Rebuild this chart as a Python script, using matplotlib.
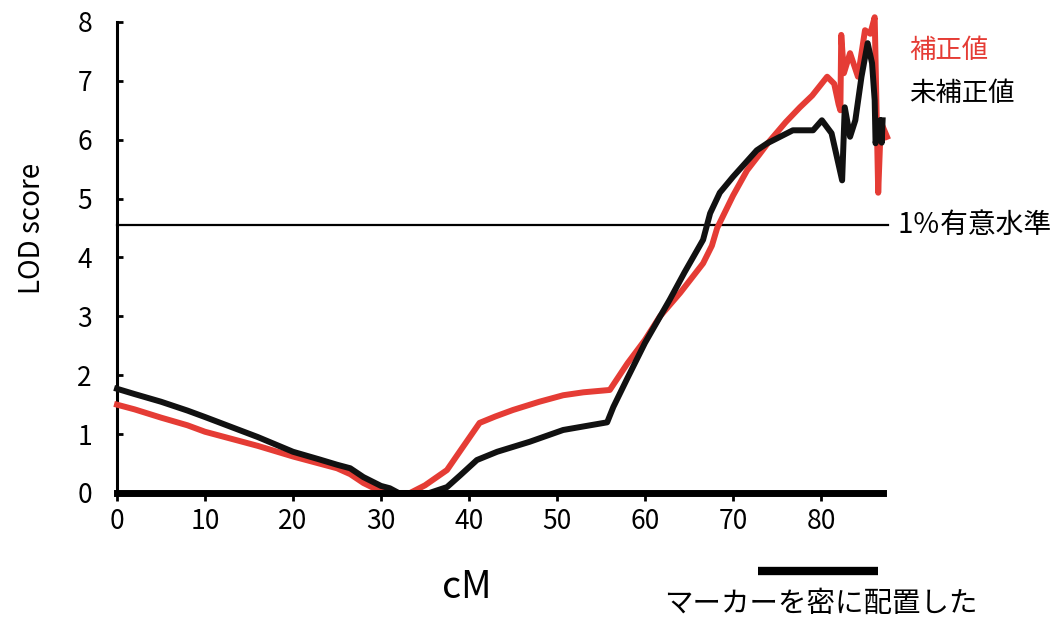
import matplotlib
matplotlib.use("Agg")
import matplotlib.pyplot as plt

plt.rcParams['font.family'] = ['Noto Sans CJK JP', 'DejaVu Sans']

# position along the chromosome (cM) and LOD score
corr_cm = [0, 2, 5, 8, 10, 13, 16, 20, 23, 25, 26.5, 28, 29.5, 31, 32, 33.3, 35, 37.5, 39.3,
           41.2, 43, 45, 48, 50.7, 53, 56, 58, 60, 61.7, 64, 66.6, 67.6, 68.2, 70, 71.6, 73,
           74, 76, 77.6, 79, 80.7, 81.5, 82.0, 82.2, 82.3, 82.6, 83.3, 84.2, 85.0, 85.6, 86.1,
           86.5, 86.8, 87.5]
corr_lod = [1.5, 1.42, 1.28, 1.15, 1.04, 0.92, 0.8, 0.62, 0.5, 0.42, 0.32, 0.17, 0.06, 0.01,
            0, 0, 0.13, 0.39, 0.78, 1.19, 1.3, 1.41, 1.55, 1.66, 1.71, 1.75, 2.2, 2.6, 3.0,
            3.4, 3.9, 4.2, 4.5, 5.05, 5.48, 5.75, 5.95, 6.3, 6.55, 6.75, 7.07, 6.95, 6.6, 6.5,
            7.78, 7.13, 7.47, 7.07, 7.86, 7.8, 8.08, 5.1, 6.3, 6.05]

raw_cm = [0, 2, 5, 8, 10, 13, 16, 20, 23, 25, 26.5, 28, 30, 31, 32, 35.5, 37.5, 39, 40.9,
          43.2, 46.9, 50.7, 53, 55.7, 56.4, 58, 60, 62.8, 64.5, 66.6, 67.4, 68.5, 70, 72.7,
          73.9, 76.8, 79.1, 80.1, 81.2, 82.4, 82.7, 83.3, 83.9, 84.6, 85.3, 85.8, 86.1, 86.2,
          86.7, 86.9, 87.0]
raw_lod = [1.77, 1.68, 1.55, 1.4, 1.29, 1.12, 0.95, 0.7, 0.57, 0.48, 0.42, 0.27, 0.12, 0.08,
           0, 0, 0.1, 0.3, 0.56, 0.7, 0.87, 1.07, 1.13, 1.2, 1.46, 1.95, 2.55, 3.28, 3.75,
           4.3, 4.75, 5.1, 5.37, 5.82, 5.94, 6.16, 6.16, 6.33, 6.11, 5.31, 6.55, 6.05, 6.33,
           7.07, 7.64, 7.3, 6.67, 5.94, 6.33, 5.95, 6.33]

threshold = 4.55
dense_region = [72.8, 86.5]

red = '#e53c35'

fig = plt.figure(figsize=(10.56, 6.17), dpi=100)
ax = fig.add_axes([0.1108, 0.201, 0.725, 0.7634])

ax.plot([0, 87.6], [threshold, threshold], color='black', linewidth=1.6, clip_on=False, zorder=2)
ax.plot(corr_cm, corr_lod, color=red, linewidth=4.3, clip_on=False, zorder=3)
ax.plot(raw_cm, raw_lod, color='#111111', linewidth=4.3, clip_on=False, zorder=4)

# bar under the axis showing where markers were placed densely
ax.plot(dense_region, [-1.32, -1.32], color='black', linewidth=6, solid_capstyle='butt',
        clip_on=False)

ax.set_xlim(0, 87)
ax.set_ylim(0, 8)
ax.set_xticks(range(0, 90, 10))
ax.set_yticks(range(0, 9))

for s in ['top', 'right']:
    ax.spines[s].set_visible(False)
ax.spines['left'].set_linewidth(2.2)
ax.spines['bottom'].set_linewidth(5)
ax.spines['bottom'].set_zorder(5)

ax.tick_params(axis='x', direction='out', length=6, width=2, labelsize=19, pad=5)
ax.tick_params(axis='y', direction='in', length=4, width=2, labelsize=19, pad=18)

fig.text(0.03, 0.63, 'LOD score', fontsize=20, rotation=90, ha='center', va='center')
fig.text(0.442, 0.048, 'cM', fontsize=27, ha='center', va='center')

fig.text(0.861, 0.918, '補正値', fontsize=19, color=red, va='center')
fig.text(0.861, 0.849, '未補正値', fontsize=19, color='black', va='center')
fig.text(0.850, 0.636, '1％有意水準', fontsize=20, color='black', va='center')
fig.text(0.777, 0.021, 'マーカーを密に配置した', fontsize=20.5, ha='center', va='center')

fig.savefig('out.png', dpi=100)
